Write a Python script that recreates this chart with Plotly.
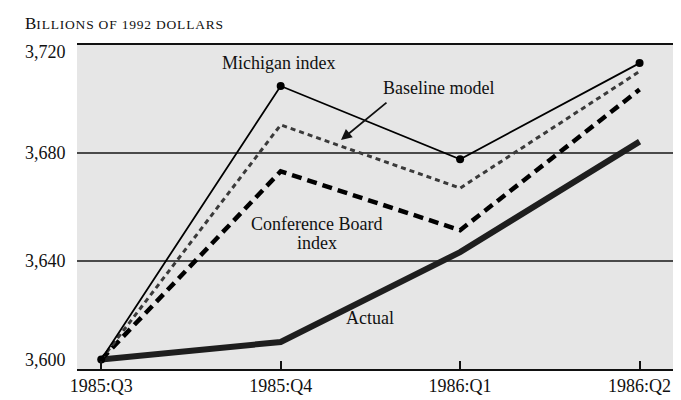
import plotly.graph_objects as go

quarters = ["1985:Q3", "1985:Q4", "1986:Q1", "1986:Q2"]
actual = [3603.5, 3610.0, 3643.3, 3684.2]
michigan = [3603.5, 3704.8, 3677.7, 3713.3]
baseline = [3603.5, 3690.4, 3667.0, 3710.2]
conference = [3603.5, 3673.2, 3651.4, 3703.5]
y_ticks = [3600, 3640, 3680, 3720]
y_tick_labels = ["3,600", "3,640", "3,680", "3,720"]

FONT = "Liberation Serif"
FS = 18
xs = list(range(len(quarters)))

fig = go.Figure()
fig.add_trace(go.Scatter(x=xs, y=actual, mode="lines",
                         line=dict(color="#1e1e1e", width=6), hoverinfo="skip"))
fig.add_trace(go.Scatter(x=xs, y=conference, mode="lines",
                         line=dict(color="#000000", width=4.5, dash="10px,6px"), hoverinfo="skip"))
fig.add_trace(go.Scatter(x=xs, y=baseline, mode="lines",
                         line=dict(color="#3a3a3a", width=3, dash="5px,4px"), hoverinfo="skip"))
fig.add_trace(go.Scatter(x=xs, y=michigan, mode="lines+markers",
                         line=dict(color="#000000", width=1.8),
                         marker=dict(color="#000000", size=8), hoverinfo="skip"))

fig.update_layout(
    width=681, height=400,
    margin=dict(l=69, r=13, t=37, b=28),
    paper_bgcolor="white", plot_bgcolor="#e6e6e6",
    showlegend=False,
    font=dict(family=FONT, size=FS, color="#111"),
    xaxis=dict(range=[-0.135, 3.203], tickvals=xs, ticktext=quarters,
               ticks="inside", ticklen=8, tickwidth=1.5, tickcolor="#111",
               showgrid=False, zeroline=False,
               showline=True, mirror=True, linecolor="#111", linewidth=1.5,
               tickfont=dict(family=FONT, size=FS, color="#111")),
    yaxis=dict(range=[3600, 3720], tickvals=y_ticks, showticklabels=False,
               showgrid=True, gridcolor="#4a4a4a", gridwidth=1.5,
               zeroline=False, showline=False, ticks=""),
)

# y tick labels (end labels sit inward, as in the reference)
for v, t in zip(y_ticks, y_tick_labels):
    shift = 0
    if v == y_ticks[0]:
        shift = 9
    elif v == y_ticks[-1]:
        shift = -7
    fig.add_annotation(x=0, xref="paper", y=v, yref="y", text=t, showarrow=False,
                       xanchor="right", yanchor="middle", xshift=-9, yshift=shift,
                       font=dict(family=FONT, size=FS, color="#111"))

# Title in small caps
fig.add_annotation(x=-0.0902, xref="paper", y=1.066, yref="paper",
                   text="<span style='font-size:17px'>B</span>"
                        "<span style='letter-spacing:0.8px'>ILLIONS OF 1992 DOLLARS</span>",
                   showarrow=False, xanchor="left", yanchor="middle",
                   font=dict(family=FONT, size=13.5, color="#111"))

# Series labels
fig.add_annotation(x=0.99, y=3713.3, text="Michigan index", showarrow=False,
                   font=dict(family=FONT, size=FS, color="#111"))
fig.add_annotation(x=1.877, y=3704.0, text="Baseline model", showarrow=False,
                   font=dict(family=FONT, size=FS, color="#111"))
fig.add_annotation(x=1.336, y=3684.8, ax=1.598, ay=3699.1, xref="x", yref="y",
                   axref="x", ayref="y", text="", showarrow=True,
                   arrowhead=2, arrowsize=1.2, arrowwidth=1.8, arrowcolor="#111")
fig.add_annotation(x=1.202, y=3653.6, text="Conference Board", showarrow=False,
                   font=dict(family=FONT, size=FS, color="#111"))
fig.add_annotation(x=1.202, y=3646.8, text="index", showarrow=False,
                   font=dict(family=FONT, size=FS, color="#111"))
fig.add_annotation(x=1.50, y=3618.8, text="Actual", showarrow=False,
                   font=dict(family=FONT, size=FS, color="#111"))

fig.write_html("out.html")
